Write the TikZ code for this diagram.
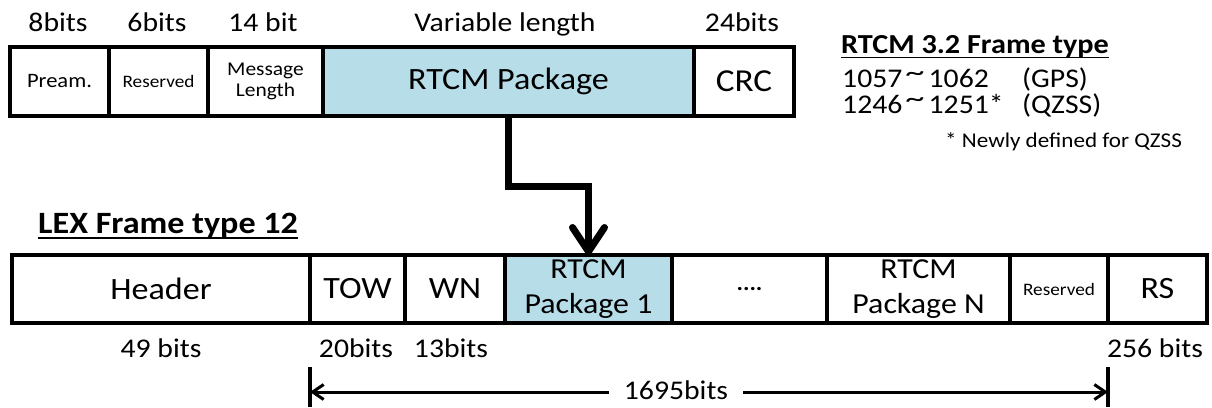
\documentclass[tikz,border=0pt]{standalone}
\usepackage{fontspec}
\setmainfont{Carlito}[FakeStretch=1.1]
\usetikzlibrary{arrows.meta}
\definecolor{pkgblue}{HTML}{B7DDE8}
\newcommand{\hightilde}{\hspace{3pt}\raisebox{6pt}{\scalebox{1.3}[1]{\textasciitilde}}\hspace{4pt}}
\begin{document}
\begin{tikzpicture}[x=1pt,y=-1pt,
  box/.style={draw, line width=3.5pt, inner sep=0pt, outer sep=0pt, anchor=north west, align=center},
  topbox/.style={box, minimum height=69pt},
  botbox/.style={box, minimum height=68pt},
  lbl/.style={inner sep=0pt, anchor=base, font=\fontsize{27}{32}\selectfont},
  bigarrow/.style={line width=7pt, -{Straight Barb[length=24pt,width=32pt,round]}},
  dimarrow/.style={line width=3pt, -{Straight Barb[length=11pt,width=15pt]}},
  dimtick/.style={line width=4pt},
  uline/.style={line width=1.8pt}]
\useasboundingbox (0,0) rectangle (1212,407);
% top frame
\node[topbox, minimum width=99pt, font=\fontsize{20.5}{22}\selectfont] (pre) at (10,47) {Pream.};
\node[topbox, minimum width=99pt, font=\fontsize{17.5}{19}\selectfont] (res) at (109,47) {Reserved};
\node[topbox, minimum width=115pt, font=\fontsize{19.5}{21}\selectfont] (mlen) at (208,47) {Message\\Length};
\node[topbox, minimum width=371pt, fill=pkgblue, font=\fontsize{31}{34}\selectfont] (pkg) at (323,47) {RTCM Package};
\node[topbox, minimum width=100pt, font=\fontsize{32}{34}\selectfont] (crc) at (694,47) {CRC};
% top labels
\node[lbl] (l8) at (58,31) {8bits};
\node[lbl] (l6) at (157,31) {6bits};
\node[lbl] (l14) at (263,31) {14 bit};
\node[lbl] (lvar) at (505,31) {Variable length};
\node[lbl] (l24) at (742,31) {24bits};
% right text
\node[lbl, anchor=base west, font=\fontsize{27.5}{32}\selectfont\bfseries] (title) at (841,53) {RTCM 3.2 Frame type};
\draw[uline] ([yshift=-4.5pt]title.base west) -- ([yshift=-4.5pt]title.base east);
\node[lbl, anchor=base west] (g1) at (842,87) {1057\hightilde1062};
\node[lbl, anchor=base west] (g2) at (1022,87) {(GPS)};
\node[lbl, anchor=base west] (q1) at (842,113) {1246\hightilde1251*};
\node[lbl, anchor=base west] (q2) at (1022,113) {(QZSS)};
\node[lbl, anchor=base west, font=\fontsize{21}{24}\selectfont] (note) at (945,147) {* Newly defined for QZSS};
% LEX title
\node[lbl, anchor=base west, font=\fontsize{31}{34}\selectfont\bfseries] (lex) at (38,233) {LEX Frame type 12};
\draw[uline] ([yshift=-5pt]lex.base west) -- ([yshift=-5pt]lex.base east);
% bottom frame
\node[botbox, minimum width=298pt, font=\fontsize{31}{34}\selectfont] (hdr) at (12,255) {Header};
\node[botbox, minimum width=95pt, font=\fontsize{31}{34}\selectfont] (tow) at (310,255) {TOW};
\node[botbox, minimum width=100pt, font=\fontsize{31}{34}\selectfont] (wn) at (405,255) {WN};
\node[botbox, minimum width=167pt, fill=pkgblue, font=\fontsize{29}{35}\selectfont] (p1) at (505,255) {RTCM\\Package 1};
\node[botbox, minimum width=155pt, font=\fontsize{22}{24}\selectfont\bfseries] (dots) at (672,255) {....};
\node[botbox, minimum width=183pt, font=\fontsize{29}{35}\selectfont] (pN) at (827,255) {RTCM\\Package N};
\node[botbox, minimum width=98pt, font=\fontsize{17.5}{19}\selectfont] (res2) at (1010,255) {Reserved};
\node[botbox, minimum width=99pt, font=\fontsize{31}{34}\selectfont] (rs) at (1108,255) {RS};
% bottom labels
\node[lbl] (l49) at (161,357) {49 bits};
\node[lbl] (l20) at (356,357) {20bits};
\node[lbl] (l13) at (451,357) {13bits};
\node[lbl] (l256) at (1155,357) {256 bits};
% big arrow
\draw[bigarrow] (pkg.south) -- ++(0,70) -| (p1.north);
% dimension
\path (tow.west |- 0,392) coordinate (dL);
\path (rs.west |- 0,392) coordinate (dR);
\draw[dimtick] ([yshift=25pt]dL) -- ([yshift=-15pt]dL);
\draw[dimtick] ([yshift=25pt]dR) -- ([yshift=-15pt]dR);
\node[lbl, inner xsep=15pt] (total) at (676,399) {1695bits};
\draw[dimarrow] (total.west |- dL) -- (dL);
\draw[dimarrow] (total.east |- dR) -- (dR);
\end{tikzpicture}
\end{document}
